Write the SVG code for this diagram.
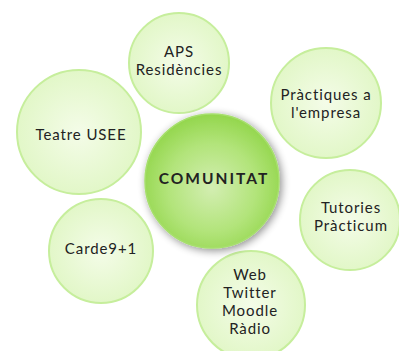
<svg xmlns="http://www.w3.org/2000/svg" width="399" height="351" viewBox="0 0 399 351">
<defs>
<radialGradient id="g1" cx="50%" cy="50%" r="50%">
<stop offset="0" stop-color="#f4fce8"/>
<stop offset="1" stop-color="#e2f7c8"/>
</radialGradient>
<radialGradient id="g2" cx="50%" cy="55%" r="55%">
<stop offset="0" stop-color="#d3eeb2"/>
<stop offset="0.6" stop-color="#b2e47a"/>
<stop offset="1" stop-color="#93d64c"/>
</radialGradient>
<filter id="sh" x="-30%" y="-30%" width="160%" height="160%">
<feGaussianBlur in="SourceAlpha" stdDeviation="4"/>
<feOffset dx="2" dy="2"/>
<feComponentTransfer><feFuncA type="linear" slope="0.45"/></feComponentTransfer>
<feMerge><feMergeNode/><feMergeNode in="SourceGraphic"/></feMerge>
</filter>
</defs>
<style>
.s{fill:url(#g1);stroke:#c6ee9c;stroke-width:2}
.c{fill:url(#g2);stroke:#a6df6c;stroke-width:1.5}
text{font-family:Lato,"Liberation Sans",sans-serif;font-size:15px;fill:#222;text-anchor:middle;letter-spacing:0.9px}
.b{font-weight:bold;font-size:15.5px;letter-spacing:2px}
</style>
<g id="connectors"/>
<g id="aps"><circle class="s" cx="179" cy="63" r="50"/><text x="179" y="57">APS</text><text x="179" y="75">Residències</text></g>
<g id="teatre"><circle class="s" cx="79" cy="132" r="62"/><text x="81" y="140">Teatre USEE</text></g>
<g id="practiques"><circle class="s" cx="326" cy="103" r="55"/><text x="326" y="100">Pràctiques a</text><text x="326" y="118">l'empresa</text></g>
<g id="tutories"><circle class="s" cx="350" cy="220" r="50"/><text x="351" y="213">Tutories</text><text x="351" y="231">Pràcticum</text></g>
<g id="carde"><circle class="s" cx="101" cy="251" r="52"/><text x="101" y="254">Carde9+1</text></g>
<g id="web"><circle class="s" cx="251" cy="305" r="54"/><text x="250" y="280">Web</text><text x="250" y="298">Twitter</text><text x="250" y="316">Moodle</text><text x="250" y="334">Ràdio</text></g>
<g id="comunitat"><circle class="c" cx="212" cy="181" r="67" filter="url(#sh)"/><text class="b" x="214" y="184">COMUNITAT</text></g>
</svg>
